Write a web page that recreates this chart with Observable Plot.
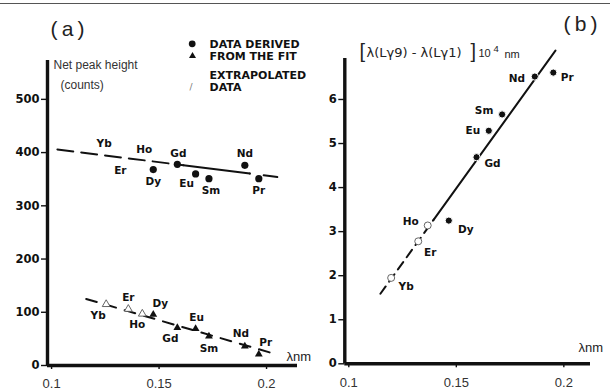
<!DOCTYPE html>
<html><head><meta charset="utf-8">
<script src="https://cdn.jsdelivr.net/npm/d3@7"></script>
<script src="https://cdn.jsdelivr.net/npm/@observablehq/plot@0.6"></script>
<style>
body{margin:0;background:#fff;}
#wrap{position:relative;width:610px;height:392px;overflow:hidden;background:#fff;}
.p{position:absolute;top:0;width:305px;height:392px;}
#topline{position:absolute;left:0;top:3px;width:610px;height:1.3px;background:#555;}
</style></head><body><div id="wrap"><div id="topline"></div><div class="p" id="pa" style="left:0"></div><div class="p" id="pb" style="left:305px"></div></div>
<script>
// ---------- data ----------
const elements = ["Yb","Er","Ho","Dy","Gd","Eu","Sm","Nd","Pr"];
// panel (a): wavelength (nm) and net peak height (counts)
const lambdaA = [0.1254,0.1357,0.1422,0.1473,0.1585,0.1670,0.1732,0.1899,0.1964];
const peakUpper = [null,null,null,368,378,360,351,376,351];   // filled circles
const peakLower = [115,106,97,96,71,69,55,36,21];              // triangles
const extrapolatedA = [true,true,true,false,false,false,false,false,false];
// fitted lines panel (a): endpoints (lambda, counts)
const fitUpLambda = [0.1027,0.205];
const fitUpValue  = [406,354];
const fitUpSolid  = [0.1613,0.1922];
const fitLowLambda = [0.1161,0.2053];
const fitLowValue  = [125,20];
// panel (b): wavelength (nm) and [λ(Lγ9)-λ(Lγ1)]·10^4 nm
const lambdaB = [0.1197,0.1323,0.1367,0.1465,0.1594,0.1651,0.1713,0.1865,0.1951];
const diffB   = [1.95,2.78,3.14,3.25,4.69,5.29,5.66,6.52,6.61];
const extrapolatedB = [true,true,true,false,false,false,false,false,false];
const fitBLambda = [0.1147,0.1961];
const fitBValue  = [1.59,7.11];
const fitBSolidFrom = 0.1395;
// ticks
const yTicksA = [0,100,200,300,400,500];
const yTicksB = [0,1,2,3,4,5,6];
const xTicks = [0.1,0.15,0.2];
const xTickLabels = ["0.1","0.15","0.2"];

// ---------- label offsets (px, style only) ----------
const offA_up  = {Yb:[-2,-12],Er:[-8,12],Ho:[2,-10],Dy:[0,12],Gd:[1,-11],Eu:[-9,10],Sm:[2,12],Nd:[0,-12],Pr:[0,12]};
const offA_low = {Yb:[-8,11],Er:[0,-11],Ho:[-5,11],Dy:[7,-11],Gd:[-7,11],Eu:[1,-11],Sm:[0,12],Nd:[-4,-13],Pr:[7,-12]};
const offB     = {Yb:[15,9],Er:[12,11],Ho:[-17,-4],Dy:[17,9],Gd:[16,6],Eu:[-16,0],Sm:[-18,-4],Nd:[-18,2],Pr:[14,5]};

const BOLD = "DejaVu Sans";
const INK = "#111";

function note(ml, mt, x, y, text, o = {}) {
  return Plot.text([text], {frameAnchor:"top-left", dx:x-ml, dy:y-mt, text:d=>d,
    textAnchor:"start", lineAnchor:"middle", fontSize:11, fill:INK, ...o});
}
function labels(rows, off) {
  return rows.map(r => Plot.text([r], {x:"lam", y:"v", text:"el", dx:off[r.el][0], dy:off[r.el][1],
    fontFamily:BOLD, fontWeight:"bold", fontSize:10.5, fill:INK}));
}
const segLine = (lams, vals) => lams.map((l,i)=>({lam:l, v:vals[i]}));

// ---------- panel (a) ----------
const ML_A=47, MR_A=8, MT_A=60, MB_A=27;
const upLine = d3.scaleLinear(fitUpLambda, fitUpValue);
const rowsUp = elements.map((el,i)=>({el, lam:lambdaA[i], v: peakUpper[i] ?? upLine(lambdaA[i]), has: peakUpper[i]!=null}));
const rowsLow = elements.map((el,i)=>({el, lam:lambdaA[i], v:peakLower[i], ex:extrapolatedA[i]}));

const plotA = Plot.plot({
  width:305, height:392, marginLeft:ML_A, marginRight:MR_A, marginTop:MT_A, marginBottom:MB_A,
  x:{domain:[0.0981,0.2144]}, y:{domain:[0,573]},
  style:{background:"none", overflow:"visible", fontFamily:BOLD},
  marks:[
    Plot.axisY({ticks:yTicksA, tickSize:6, tickPadding:2, tickFormat:d=>String(d), label:null,
      fontWeight:"bold", fontSize:11.5, strokeWidth:1.4, fill:INK, stroke:INK}),
    Plot.axisX({ticks:xTicks, tickSize:4, tickPadding:9.5, tickFormat:(d,i)=>xTickLabels[i], label:null,
      fontSize:13, fontFamily:"Liberation Sans", fill:"#333", strokeWidth:1.4, stroke:INK}),
    Plot.ruleX([0.0981], {strokeWidth:3.4, stroke:INK}),
    Plot.ruleY([0], {strokeWidth:3.4, stroke:INK}),
    // fit lines
    Plot.line(segLine([fitUpLambda[0], fitUpSolid[0]], [upLine(fitUpLambda[0]), upLine(fitUpSolid[0])]),
      {x:"lam", y:"v", stroke:INK, strokeWidth:2, strokeDasharray:"16,8"}),
    Plot.line(segLine(fitUpSolid, fitUpSolid.map(upLine)), {x:"lam", y:"v", stroke:INK, strokeWidth:2}),
    Plot.line(segLine([fitUpSolid[1], fitUpLambda[1]], [upLine(fitUpSolid[1]), fitUpValue[1]]),
      {x:"lam", y:"v", stroke:INK, strokeWidth:2, strokeDasharray:"0,14,8"}),
    Plot.line(segLine(fitLowLambda, fitLowValue), {x:"lam", y:"v", stroke:INK, strokeWidth:2, strokeDasharray:"11,9"}),
    // points
    Plot.dot(rowsUp.filter(d=>d.has), {x:"lam", y:"v", r:3.6, fill:INK}),
    Plot.dot(rowsLow.filter(d=>!d.ex), {x:"lam", y:"v", r:2.9, symbol:"triangle", fill:INK}),
    Plot.dot(rowsLow.filter(d=>d.ex), {x:"lam", y:"v", r:2.9, symbol:"triangle", fill:"white", stroke:"#555", strokeWidth:0.9}),
    ...labels(rowsUp, offA_up),
    ...labels(rowsLow, offA_low),
    // annotations
    note(ML_A, MT_A, 67, 29, "(\u2009a\u2009)", {textAnchor:"middle", fontSize:21, fontFamily:"Liberation Sans", fill:"#222"}),
    note(ML_A, MT_A, 53, 65, "Net peak height", {fontSize:12, fontFamily:"Liberation Sans", fill:"#333"}),
    note(ML_A, MT_A, 60, 84.5, "(counts)", {fontSize:12, fontFamily:"Liberation Sans", fill:"#333"}),
    Plot.dot([0], {frameAnchor:"top-left", dx:191.7-ML_A, dy:43.3-MT_A, r:3.4, fill:INK}),
    Plot.dot([0], {frameAnchor:"top-left", dx:192-ML_A, dy:55.5-MT_A, r:2.6, symbol:"triangle", fill:INK}),
    note(ML_A, MT_A, 189, 87, "/", {fontSize:9, fill:"#777"}),
    note(ML_A, MT_A, 209, 43.5, "DATA DERIVED", {fontWeight:"bold", fontSize:11}),
    note(ML_A, MT_A, 209, 55.5, "FROM THE FIT", {fontWeight:"bold", fontSize:11}),
    note(ML_A, MT_A, 209, 75, "EXTRAPOLATED", {fontWeight:"bold", fontSize:11}),
    note(ML_A, MT_A, 209, 87, "DATA", {fontWeight:"bold", fontSize:11}),
    note(ML_A, MT_A, 286, 356, "λnm", {fontSize:13, fontFamily:"Liberation Sans", fill:"#222"})
  ]
});
document.getElementById("pa").append(plotA);

// ---------- panel (b) ----------
const ML_B=39.3, MR_B=20, MT_B=58, MB_B=28.7;
const OX = 305;
const bLine = d3.scaleLinear(fitBLambda, fitBValue);
const rowsB = elements.map((el,i)=>({el, lam:lambdaB[i], v:diffB[i], ex:extrapolatedB[i]}));

const plotB = Plot.plot({
  width:305, height:392, marginLeft:ML_B, marginRight:MR_B, marginTop:MT_B, marginBottom:MB_B,
  x:{domain:[0.09814,0.2124]}, y:{domain:[0,6.93]},
  style:{background:"none", overflow:"visible", fontFamily:BOLD},
  marks:[
    Plot.axisY({ticks:yTicksB, tickSize:6, tickPadding:2, tickFormat:d=>String(d), label:null,
      fontWeight:"bold", fontSize:11.5, strokeWidth:1.4, fill:INK, stroke:INK}),
    Plot.axisX({ticks:xTicks, tickSize:4, tickPadding:10, tickFormat:(d,i)=>xTickLabels[i], label:null,
      fontSize:13, fontFamily:"Liberation Sans", fill:"#333", strokeWidth:1.4, stroke:INK}),
    Plot.ruleX([0.09814], {strokeWidth:3.4, stroke:INK}),
    Plot.ruleY([0], {strokeWidth:3.4, stroke:INK}),
    Plot.line(segLine([fitBLambda[0], fitBSolidFrom], [fitBValue[0], bLine(fitBSolidFrom)]),
      {x:"lam", y:"v", stroke:INK, strokeWidth:2, strokeDasharray:"9,6"}),
    Plot.line(segLine([fitBSolidFrom, fitBLambda[1]], [bLine(fitBSolidFrom), fitBValue[1]]),
      {x:"lam", y:"v", stroke:INK, strokeWidth:2}),
    Plot.dot(rowsB.filter(d=>!d.ex), {x:"lam", y:"v", r:3.6, fill:INK, stroke:"white", strokeWidth:1}),
    Plot.dot(rowsB.filter(d=>d.ex), {x:"lam", y:"v", r:3.5, fill:"white", stroke:"#555", strokeWidth:0.9}),
    ...labels(rowsB, offB),
    note(ML_B, MT_B, 580-OX, 24, "(\u2009b\u2009)", {textAnchor:"middle", fontSize:21, fontFamily:"Liberation Sans", fill:"#222"}),
    note(ML_B, MT_B, 359-OX, 51.5, "[", {fontSize:20, fontFamily:"Liberation Sans", fontWeight:"300", fill:"#222"}),
    note(ML_B, MT_B, 366-OX, 52, "λ(Lγ9) - λ(Lγ1)", {fontSize:13, fontFamily:"DejaVu Sans", fill:"#222"}),
    note(ML_B, MT_B, 470-OX, 51.5, "]", {fontSize:20, fontFamily:"Liberation Sans", fontWeight:"300", fill:"#222"}),
    note(ML_B, MT_B, 478-OX, 53, "10", {fontSize:11, fontFamily:"Liberation Sans", fill:"#222"}),
    note(ML_B, MT_B, 493-OX, 48, "4", {fontSize:9.5, fontFamily:"Liberation Sans", fill:"#222"}),
    note(ML_B, MT_B, 504-OX, 54, "nm", {fontSize:11, fontFamily:"Liberation Sans", fill:"#222"}),
    note(ML_B, MT_B, 578-OX, 347, "λnm", {fontSize:13, fontFamily:"Liberation Sans", fill:"#222"})
  ]
});
document.getElementById("pb").append(plotB);
</script></body></html>
